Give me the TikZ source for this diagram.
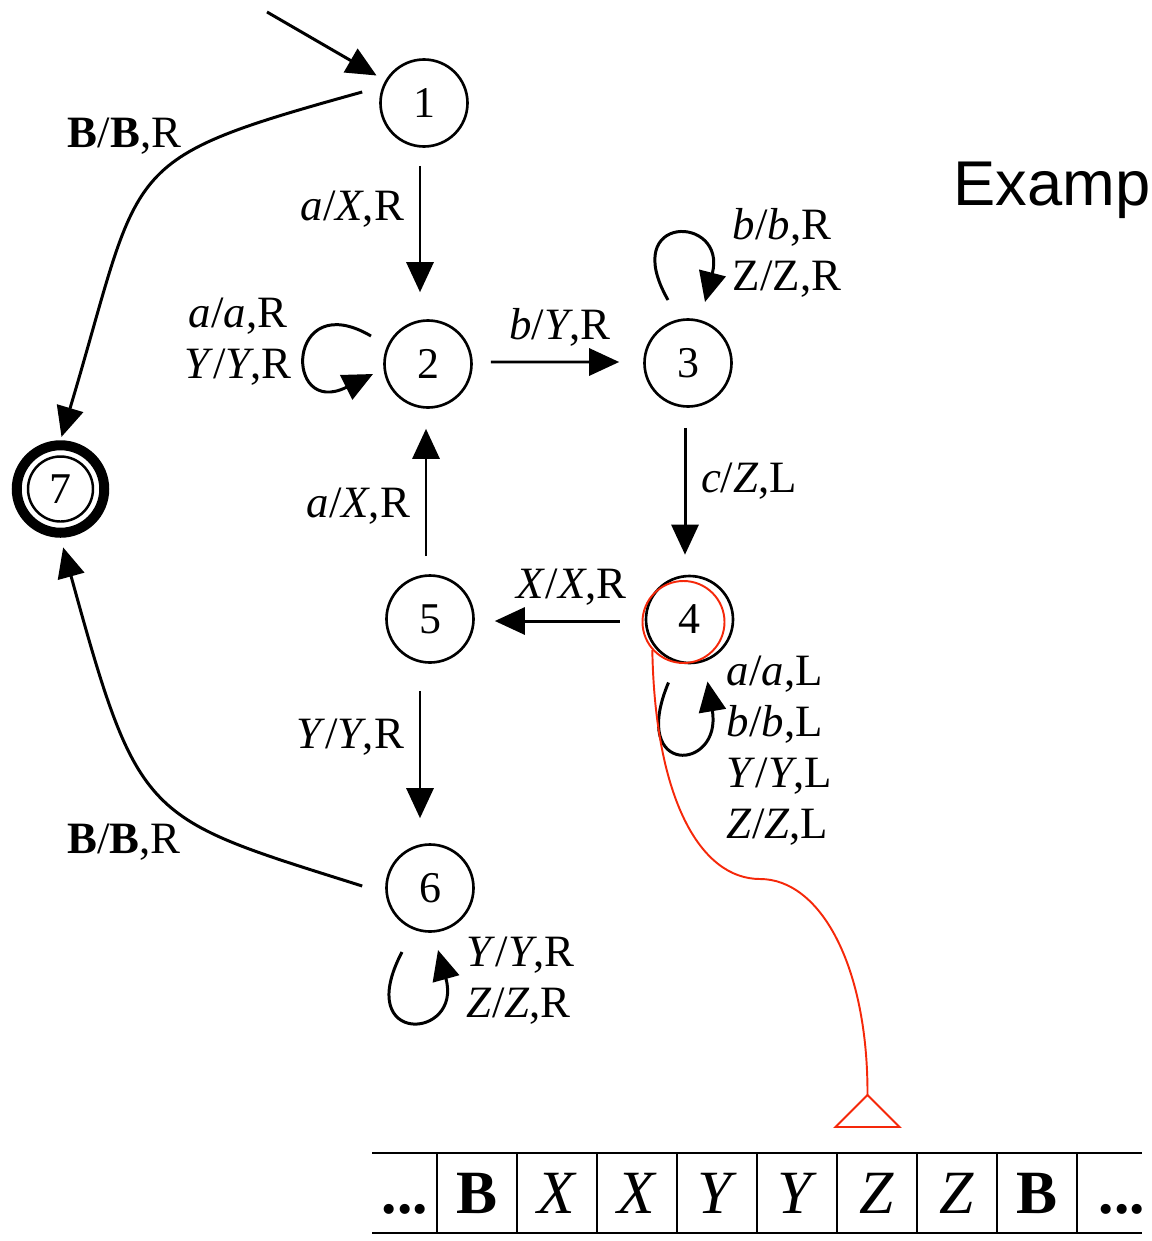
\documentclass[tikz,border=0pt]{standalone}
\usepackage{fontspec}
\setmainfont{Liberation Serif}
\newfontfamily\exfont{Liberation Sans}
\usetikzlibrary{arrows.meta}

\definecolor{headred}{RGB}{245,40,10}
\newcommand{\trn}[3]{\textit{#1}/\textit{#2},#3}

\tikzset{
  state/.style={circle, draw, line width=1.5pt, minimum size=1.74cm, inner sep=0pt, font=\fontsize{25}{28}\selectfont},
  arr/.style={line width=1.7pt, -{Triangle[length=0.6cm,width=0.54cm]}},
  lbl/.style={font=\fontsize{25.5}{29}\selectfont, inner sep=0.29cm},
  tapeline/.style={line width=1.2pt},
  tapetxt/.style={font=\fontsize{35}{40}\selectfont, inner sep=0pt, anchor=base},
  headmark/.style={draw=headred, line width=1.1pt}
}

\begin{document}
\begin{tikzpicture}
\useasboundingbox (0,0) rectangle (23.04,-24.82);

% states
\node[state] (s1) at (8.48,-2.06) {1};
\node[state] (s2) at (8.56,-7.28) {2};
\node[state] (s3) at (13.76,-7.26) {3};
\node[state] (s4) at (13.79,-12.39) {4};
\node[state] (s5) at (8.6,-12.38) {5};
\node[state] (s6) at (8.6,-17.76) {6};
\node[state, line width=0.2cm, minimum size=1.75cm] (s7) at (1.21,-9.78) {7};
\draw[line width=1.4pt] (s7) circle (0.65cm);

\node[anchor=base west, inner sep=0pt, font=\exfont\fontsize{36}{40}\selectfont] (title) at (19.06,-4.1) {Examp};

% transitions
\coordinate (start) at (5.34,-0.24);
\draw[arr, shorten >=0.2cm] (start) -- (s1);

\draw[arr, shorten <=0.36cm, shorten >=0.54cm] ([xshift=-0.08cm]s1.south) -- node[lbl, left, pos=0.36] (l12) {\trn{a}{X}{R}} ([xshift=-0.16cm]s2.north);
\draw[arr, shorten <=0.36cm, shorten >=0.48cm] ([yshift=0.04cm]s2.east) -- node[lbl, above, pos=0.51] (l23) {\trn{b}{Y}{R}} ([yshift=0.02cm]s3.west);
\draw[arr, shorten <=0.4cm, shorten >=0.4cm] ([xshift=-0.06cm]s3.south) -- node[lbl, right, pos=0.44] (l34) {\trn{c}{Z}{L}} ([xshift=-0.09cm]s4.north);
\draw[arr, shorten <=0.5cm, shorten >=0.4cm] ([yshift=-0.03cm]s4.west) -- node[lbl, above, pos=0.43] (l45) {\trn{X}{X}{R}} ([yshift=-0.04cm]s5.east);
\draw[arr, shorten <=0.36cm, shorten >=0.4cm] ([xshift=-0.08cm]s5.north) -- node[lbl, left, pos=0.41] (l52) {\trn{a}{X}{R}} ([xshift=-0.04cm]s2.south);
\draw[arr, shorten <=0.54cm, shorten >=0.5cm] ([xshift=-0.2cm]s5.south) -- node[lbl, left, pos=0.41] (l56) {\trn{Y}{Y}{R}} ([xshift=-0.2cm]s6.north);

\draw[arr, shorten >=0.07cm] ([shift={(-0.34,0.22)}]s1.west) .. controls (2.28,-3.22) and (2.88,-3.22) .. node[lbl, left=0.5cm, pos=0.25] (l17) {\textbf{B}/\textbf{B},R} (s7.north);
\draw[arr, shorten >=0.2cm] ([shift={(-0.46,0.04)}]s6.west) .. controls (2.88,-16.34) and (2.78,-16.46) .. node[lbl, left=0.75cm, pos=0.25] (l67) {\textbf{B}/\textbf{B},R} (s7.south);

% self loops
\draw[arr] ([shift={(-1.14,0.56)}]s2.center) .. controls +(-1.7,1.0) and +(-1.8,-0.9) .. ([shift={(-1.1,-0.2)}]s2.center);
\node[lbl, align=center] (l22) at (4.76,-6.84) {\trn{a}{a}{R}\\\trn{Y}{Y}{R}};

\draw[arr] ([shift={(-0.4,1.26)}]s3.center) .. controls +(-1.0,1.75) and +(0.45,1.75) .. ([shift={(0.34,1.22)}]s3.center);
\node[lbl, align=left, anchor=west] (l33) at (14.36,-5.05) {\trn{b}{b}{R}\\Z/Z,R};

\draw[arr] ([shift={(-0.42,-1.26)}]s4.center) .. controls +(-0.8,-1.9) and +(0.3,-1.8) .. ([shift={(0.36,-1.24)}]s4.center);
\node[lbl, align=left, anchor=west] (l44) at (14.24,-15.02) {\trn{a}{a}{L}\\\trn{b}{b}{L}\\\trn{Y}{Y}{L}\\\trn{Z}{Z}{L}};

\draw[arr] ([shift={(-0.56,-1.28)}]s6.center) .. controls +(-1.0,-1.9) and +(0.5,-1.8) .. ([shift={(0.16,-1.24)}]s6.center);
\node[lbl, align=left, anchor=west] (l66) at (9.04,-19.62) {\trn{Y}{Y}{R}\\\trn{Z}{Z}{R}};

% tape head
\node[circle, headmark, minimum size=1.64cm, inner sep=0pt] (head) at (13.67,-12.44) {};
\coordinate (tip) at (17.35,-21.9);
\draw[headmark] (head.222) .. controls (13.1,-15.96) and (14.0,-17.58) .. (15.2,-17.58) .. controls (16.4,-17.58) and (17.36,-19.3) .. (tip);
\draw[headmark] (tip) -- ++(-0.64,-0.64) -- ++(1.28,0) -- cycle;

% tape
\draw[tapeline] (7.44,-23.06) -- (22.84,-23.06);
\draw[tapeline] (7.44,-24.66) -- (22.84,-24.66);
\draw[tapeline] (8.74,-23.06) -- (8.74,-24.66);
\draw[tapeline] (10.34,-23.06) -- (10.34,-24.66);
\draw[tapeline] (11.94,-23.06) -- (11.94,-24.66);
\draw[tapeline] (13.54,-23.06) -- (13.54,-24.66);
\draw[tapeline] (15.14,-23.06) -- (15.14,-24.66);
\draw[tapeline] (16.74,-23.06) -- (16.74,-24.66);
\draw[tapeline] (18.34,-23.06) -- (18.34,-24.66);
\draw[tapeline] (19.94,-23.06) -- (19.94,-24.66);
\draw[tapeline] (21.54,-23.06) -- (21.54,-24.66);

\node[tapetxt] (c0) at (8.1,-24.26) {\textbf{...}};
\node[tapetxt] (c1) at (9.54,-24.26) {\textbf{B}};
\node[tapetxt] (c2) at (11.14,-24.26) {\textit{X}};
\node[tapetxt] (c3) at (12.74,-24.26) {\textit{X}};
\node[tapetxt] (c4) at (14.34,-24.26) {\textit{Y}};
\node[tapetxt] (c5) at (15.94,-24.26) {\textit{Y}};
\node[tapetxt] (c6) at (17.54,-24.26) {\textit{Z}};
\node[tapetxt] (c7) at (19.14,-24.26) {\textit{Z}};
\node[tapetxt] (c8) at (20.74,-24.26) {\textbf{B}};
\node[tapetxt] (c9) at (22.44,-24.26) {\textbf{...}};

\end{tikzpicture}
\end{document}
